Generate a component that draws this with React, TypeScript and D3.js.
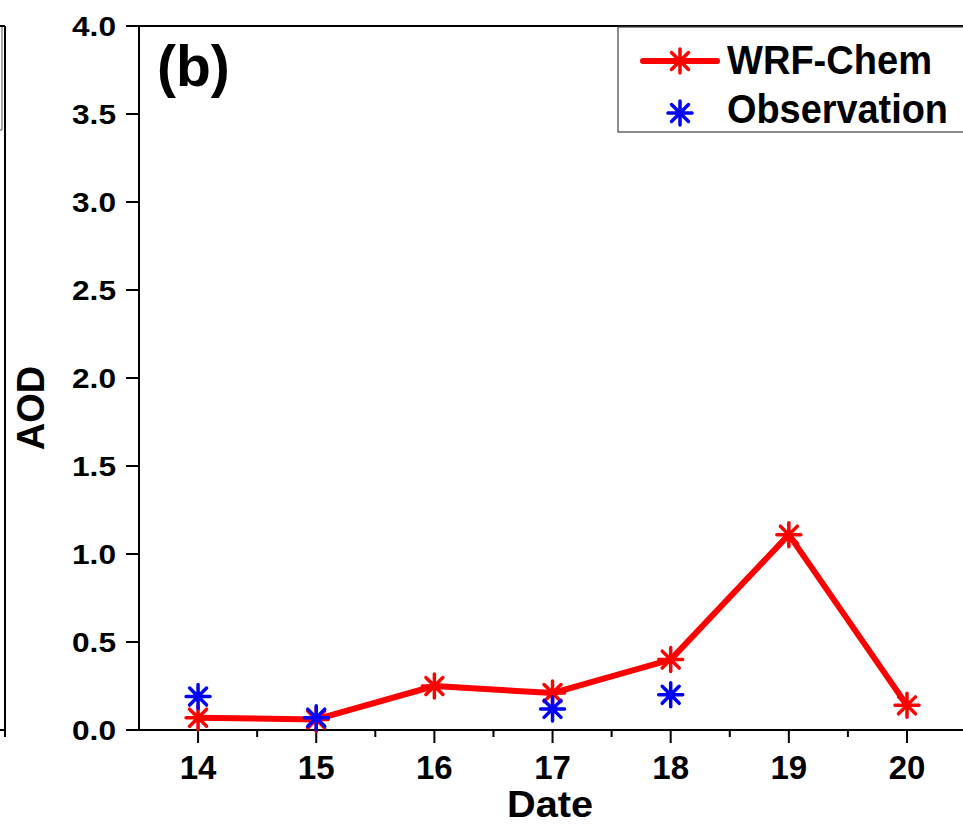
import React from "react";
import * as d3 from "d3";

// Daily aerosol optical depth, panel (b)
const dates = [14, 15, 16, 17, 18, 19, 20];
const wrfChem = [0.07, 0.06, 0.25, 0.21, 0.4, 1.11, 0.14];
const obsDates = [14, 15, 17, 18];
const observation = [0.19, 0.07, 0.12, 0.2];
const yTicks = [0, 0.5, 1.0, 1.5, 2.0, 2.5, 3.0, 3.5, 4.0];
const xMinor = [14.5, 15.5, 16.5, 17.5, 18.5, 19.5];

const W = 963;
const H = 825;
const FONT = "Arial, 'Liberation Sans', Helvetica, sans-serif";

const x = d3.scaleLinear().domain([13.5, 20]).range([139, 907]);
const y = d3.scaleLinear().domain([0, 4]).range([730, 26]);

function Star({ cx, cy, r, color, sw }: { cx: number; cy: number; r: number; color: string; sw: number }) {
  const d = r * Math.SQRT1_2;
  const path = `M${cx},${cy - r}L${cx},${cy + r}M${cx - r},${cy}L${cx + r},${cy}M${cx - d},${cy - d}L${cx + d},${cy + d}M${cx - d},${cy + d}L${cx + d},${cy - d}`;
  return <path d={path} stroke={color} strokeWidth={sw} fill="none" strokeLinecap="round" />;
}

export default function App() {
  const line = d3
    .line<number>()
    .x((_, i) => x(dates[i]))
    .y((v) => y(v));

  return (
    <svg
      width={W}
      height={H}
      style={{ position: "absolute", left: 0, top: 0, background: "#fff" }}
      fontFamily={FONT}
    >
      {/* edge of the neighbouring panel (a) */}
      <line x1={0} x2={5} y1={26} y2={26} stroke="#000" strokeWidth={2} />
      <line x1={0} x2={5} y1={730} y2={730} stroke="#000" strokeWidth={2} />
      <line x1={5} x2={5} y1={26} y2={737} stroke="#000" strokeWidth={2} />
      <line x1={2} x2={2} y1={27} y2={130} stroke="#555" strokeWidth={1} />
      <line x1={0} x2={2} y1={130} y2={130} stroke="#555" strokeWidth={1} />

      {/* frame */}
      <line x1={126} x2={W} y1={26} y2={26} stroke="#000" strokeWidth={2} />
      <line x1={139} x2={139} y1={26} y2={730} stroke="#000" strokeWidth={2} />
      <line x1={126} x2={W} y1={730} y2={730} stroke="#000" strokeWidth={2} />

      {/* y axis */}
      {yTicks.map((t) => (
        <g key={t}>
          <line x1={126} x2={139} y1={y(t)} y2={y(t)} stroke="#000" strokeWidth={2} />
          <text
            x={116}
            y={y(t) + 10}
            textAnchor="end"
            fontSize={28}
            fontWeight="bold"
            textLength={44}
            lengthAdjust="spacingAndGlyphs"
          >
            {t.toFixed(1)}
          </text>
        </g>
      ))}

      {/* x axis */}
      {dates.map((d) => (
        <g key={d}>
          <line x1={x(d)} x2={x(d)} y1={730} y2={743} stroke="#000" strokeWidth={2} />
          <text x={x(d)} y={779} textAnchor="middle" fontSize={33} fontWeight="bold">
            {d}
          </text>
        </g>
      ))}
      {xMinor.map((d) => (
        <line key={d} x1={x(d)} x2={x(d)} y1={730} y2={737} stroke="#000" strokeWidth={2} />
      ))}

      <text
        transform={`translate(44,408) rotate(-90)`}
        textAnchor="middle"
        fontSize={38}
        fontWeight="bold"
      >
        AOD
      </text>
      <text x={550} y={817} textAnchor="middle" fontSize={37} fontWeight="bold" textLength={86} lengthAdjust="spacingAndGlyphs">
        Date
      </text>

      <text x={157} y={86} fontSize={57} fontWeight="bold">
        (b)
      </text>

      {/* series */}
      <path d={line(wrfChem) || ""} fill="none" stroke="#ff0000" strokeWidth={6} strokeLinejoin="round" />
      {wrfChem.map((v, i) => (
        <Star key={`w${i}`} cx={x(dates[i])} cy={y(v)} r={12} color="#ff0000" sw={3.5} />
      ))}
      {observation.map((v, i) => (
        <Star key={`o${i}`} cx={x(obsDates[i])} cy={y(v)} r={12} color="#0000ff" sw={3.5} />
      ))}

      {/* legend */}
      <rect x={618} y={27} width={400} height={105} fill="#fff" stroke="#444" strokeWidth={1.2} />
      <line x1={643} x2={717} y1={61} y2={61} stroke="#ff0000" strokeWidth={6} strokeLinecap="round" />
      <Star cx={680} cy={61} r={12} color="#ff0000" sw={3.5} />
      <text x={727} y={74} fontSize={40} fontWeight="bold" textLength={205} lengthAdjust="spacingAndGlyphs">
        WRF-Chem
      </text>
      <Star cx={680} cy={113} r={12} color="#0000ff" sw={3.5} />
      <text x={727} y={123} fontSize={40} fontWeight="bold" textLength={221} lengthAdjust="spacingAndGlyphs">
        Observation
      </text>
    </svg>
  );
}
